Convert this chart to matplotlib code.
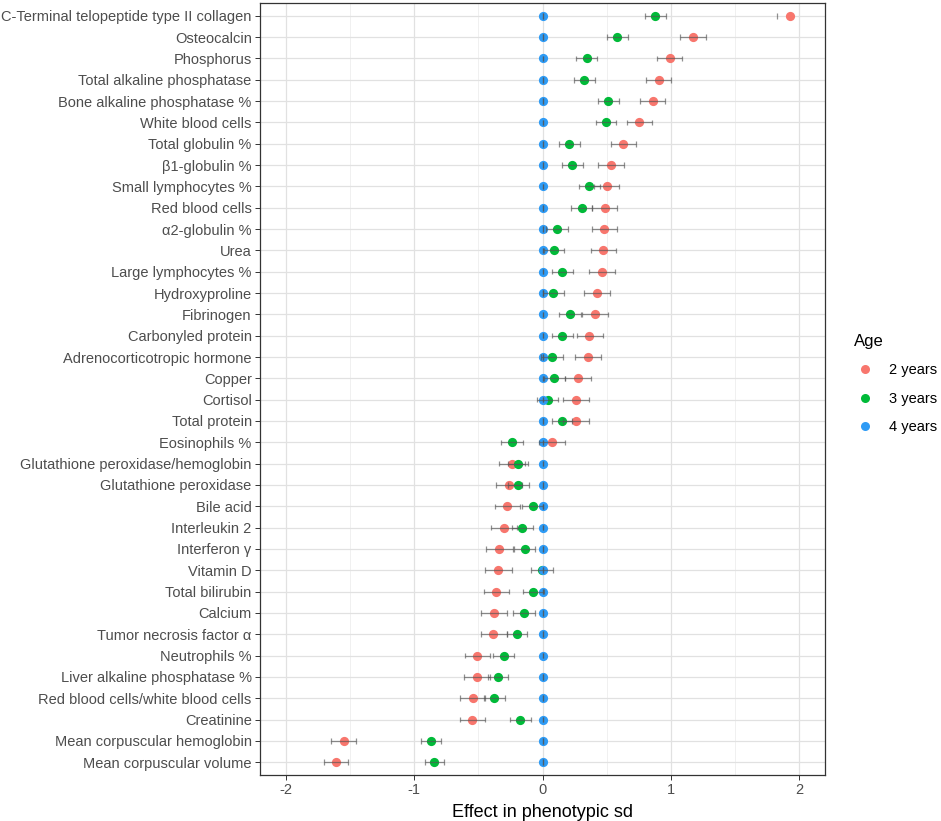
import numpy as np
import matplotlib
matplotlib.use("Agg")
from matplotlib import pyplot as plt
from matplotlib.lines import Line2D

plt.rcParams['font.family'] = ['Liberation Sans', 'DejaVu Sans']
plt.rcParams['axes.unicode_minus'] = False

# traits, top to bottom as in the figure
traits = [
    'C-Terminal telopeptide type II collagen', 'Osteocalcin', 'Phosphorus',
    'Total alkaline phosphatase', 'Bone alkaline phosphatase %', 'White blood cells',
    'Total globulin %', 'β1-globulin %', 'Small lymphocytes %', 'Red blood cells',
    'α2-globulin %', 'Urea', 'Large lymphocytes %', 'Hydroxyproline', 'Fibrinogen',
    'Carbonyled protein', 'Adrenocorticotropic hormone', 'Copper', 'Cortisol',
    'Total protein', 'Eosinophils %', 'Glutathione peroxidase/hemoglobin',
    'Glutathione peroxidase', 'Bile acid', 'Interleukin 2', 'Interferon γ',
    'Vitamin D', 'Total bilirubin', 'Calcium', 'Tumor necrosis factor α',
    'Neutrophils %', 'Liver alkaline phosphatase %', 'Red blood cells/white blood cells',
    'Creatinine', 'Mean corpuscular hemoglobin', 'Mean corpuscular volume',
]

# 2 years vs 4 years (estimate, lower, upper); nan = bar end outside the panel
est2 = [1.925, 1.171, 0.990, 0.907, 0.858, 0.755, 0.630, 0.532, 0.499, 0.486,
        0.481, 0.473, 0.465, 0.426, 0.411, 0.364, 0.354, 0.279, 0.264, 0.261,
        0.072, -0.239, -0.259, -0.275, -0.301, -0.337, -0.348, -0.361, -0.379,
        -0.384, -0.508, -0.511, -0.542, -0.547, -1.549, -1.611]
lo2 = [1.824, 1.072, 0.891, 0.809, 0.760, 0.656, 0.530, 0.432, 0.400, 0.388,
       0.382, 0.375, 0.364, 0.323, 0.307, 0.269, 0.253, 0.178, 0.163, 0.163,
       -0.028, -0.337, -0.363, -0.373, -0.402, -0.438, -0.446, -0.459, -0.480,
       -0.482, -0.607, -0.612, -0.641, -0.646, -1.645, -1.704]
hi2 = [np.nan, 1.277, 1.090, 1.003, 0.956, 0.853, 0.731, 0.636, 0.597, 0.584,
       0.581, 0.574, 0.566, 0.525, 0.512, 0.468, 0.457, 0.377, 0.364, 0.359,
       0.176, -0.140, -0.160, -0.174, -0.200, -0.233, -0.241, -0.259, -0.275,
       -0.280, -0.407, -0.412, -0.444, -0.446, -1.450, -1.515]

# 3 years vs 4 years
est3 = [0.879, 0.581, 0.344, 0.326, 0.512, 0.494, 0.209, 0.233, 0.362, 0.305,
        0.111, 0.090, 0.152, 0.083, 0.212, 0.155, 0.075, 0.093, 0.039, 0.152,
        -0.235, -0.192, -0.187, -0.075, -0.156, -0.140, -0.005, -0.073, -0.145,
        -0.200, -0.303, -0.348, -0.374, -0.174, -0.869, -0.843]
lo3 = [0.800, 0.499, 0.264, 0.245, 0.432, 0.416, 0.129, 0.150, 0.282, 0.225,
       0.031, 0.008, 0.072, 0.001, 0.132, 0.075, -0.008, 0.013, -0.044, 0.072,
       -0.320, -0.272, -0.270, -0.156, -0.236, -0.223, -0.086, -0.153, -0.226,
       -0.280, -0.387, -0.428, -0.454, -0.254, -0.944, -0.918]
hi3 = [0.960, 0.667, 0.426, 0.406, 0.594, 0.574, 0.295, 0.315, 0.444, 0.385,
       0.196, 0.171, 0.238, 0.165, 0.302, 0.240, 0.160, 0.176, 0.124, 0.233,
       -0.155, -0.112, -0.104, 0.005, -0.075, -0.057, 0.078, 0.008, -0.062,
       -0.119, -0.220, -0.267, -0.290, -0.091, -0.791, -0.768]

# 4 years is the reference level
est4 = [0.0] * len(traits)

ages = ['2 years', '3 years', '4 years']
colors = ['#F8766D', '#00BA38', '#2E9BF5']

fig = plt.figure(figsize=(9.41, 8.21), dpi=100)
ax = fig.add_axes([260 / 941, 1 - 775 / 821, 565 / 941, 772 / 821])

n = len(traits)
y = np.arange(n)[::-1]

series = [(est2, lo2, hi2), (est3, lo3, hi3), (est4, est4, est4)]
for (est, lo, hi), col in zip(series, colors):
    ax.scatter(est, y, s=44, color=col, zorder=3, linewidths=0)

# error bars on top of the points, like the original
for est, lo, hi in series:
    lo = np.array(lo, dtype=float)
    hi = np.array(hi, dtype=float)
    ok = ~np.isnan(hi)
    ax.hlines(y[ok], lo[ok], hi[ok], color='#555555', lw=0.9, alpha=0.65, zorder=4)
    ax.vlines(lo, y - 0.13, y + 0.13, color='#555555', lw=0.9, alpha=0.65, zorder=4)
    ax.vlines(hi[ok], y[ok] - 0.13, y[ok] + 0.13, color='#555555', lw=0.9, alpha=0.65, zorder=4)

ax.set_xlim(-2.2, 2.2)
ax.set_ylim(-0.6, n - 0.4)
ax.set_xticks([-2, -1, 0, 1, 2])
ax.set_xticks([-1.5, -0.5, 0.5, 1.5], minor=True)
ax.set_yticks(y)
ax.set_yticklabels(traits)
ax.grid(which='major', color='#e1e1e1', lw=0.9)
ax.grid(which='minor', axis='x', color='#eeeeee', lw=0.6)
ax.set_axisbelow(True)
ax.tick_params(axis='both', which='major', length=3.5, width=0.7, color='#333333',
               labelcolor='#4d4d4d', labelsize=10.5, pad=2.5)
ax.tick_params(axis='both', which='minor', length=0)
for sp in ax.spines.values():
    sp.set_color('#333333')
    sp.set_linewidth(0.9)
ax.set_xlabel('Effect in phenotypic sd', fontsize=13, color='black', labelpad=5)

handles = [Line2D([], [], ls='', marker='o', ms=6.5, mec='none', mfc=c) for c in colors]
leg = fig.legend(handles, ages, title='Age', loc='upper left',
                 bbox_to_anchor=(841 / 941, 1 - 321 / 821), frameon=False,
                 fontsize=10.5, title_fontsize=12, handletextpad=0.9,
                 labelspacing=0.98, handlelength=1.5)
leg._legend_box.align = 'left'

fig.savefig('out.png', dpi=100)
